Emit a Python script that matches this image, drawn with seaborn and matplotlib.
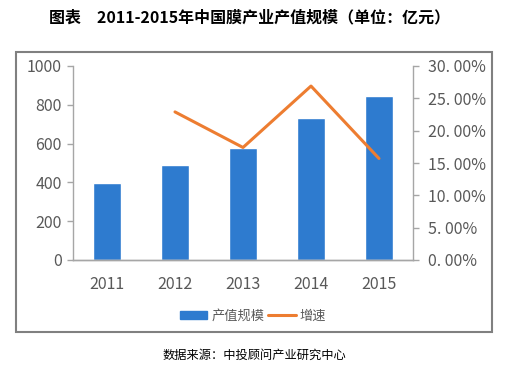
import numpy as np
import pandas as pd
import matplotlib
matplotlib.use('Agg')
import matplotlib.pyplot as plt
import matplotlib.patches as patches
from matplotlib.lines import Line2D
import seaborn as sns

# chart data
years = ['2011', '2012', '2013', '2014', '2015']
output_value = [397, 490, 577, 732, 845]           # 产值规模 (亿元)
growth_rate = [np.nan, 0.229, 0.174, 0.269, 0.157]  # 增速

left_ticks = [0, 200, 400, 600, 800, 1000]
right_ticks = [0, 0.05, 0.10, 0.15, 0.20, 0.25, 0.30]
right_labels = ['0. 00%', '5. 00%', '10. 00%', '15. 00%', '20. 00%', '25. 00%', '30. 00%']

sns.set_style('white')
plt.rcParams['font.family'] = ['Noto Sans CJK SC', 'DejaVu Sans']

bar_color = '#2E7BCF'
line_color = '#ED7D31'
axis_gray = '#A6A6A6'
text_gray = '#595959'

df = pd.DataFrame({'year': years, 'value': output_value, 'growth': growth_rate})
df['pos'] = range(len(years))

fig = plt.figure(figsize=(5.10, 3.71), dpi=100)
W, H = 510, 371
ax = fig.add_axes([73 / W, 1 - 260 / H, 340 / W, 194 / H])

sns.barplot(data=df, x='pos', y='value', color=bar_color, width=0.4,
            saturation=1, ax=ax)
ax.set_xlim(-0.5, 4.5)
ax.set_ylim(0, 1000)
ax.set_yticks(left_ticks)
ax.set_xticks(range(len(years)))
ax.set_xticklabels(years)
ax.set_xlabel('')
ax.set_ylabel('')

ax2 = ax.twinx()
sns.lineplot(data=df.dropna(), x='pos', y='growth', color=line_color,
             linewidth=2.2, ax=ax2)
ax2.set_ylim(0, 0.30)
ax2.set_yticks(right_ticks)
ax2.set_yticklabels(right_labels)
ax2.set_ylabel('')
ax2.set_xlim(-0.5, 4.5)

for a in (ax, ax2):
    a.spines['top'].set_visible(False)
    for s in ['left', 'right', 'bottom']:
        a.spines[s].set_color(axis_gray)
        a.spines[s].set_linewidth(1.0)
ax.spines['right'].set_visible(False)
ax2.spines['left'].set_visible(False)

ax.tick_params(axis='y', which='both', left=True, length=4, width=1,
               color=axis_gray, labelsize=11.5, labelcolor=text_gray, pad=4)
ax.tick_params(axis='x', bottom=False, labelsize=11.5, labelcolor=text_gray, pad=8)
ax2.tick_params(axis='y', right=True, length=4, width=1, color=axis_gray,
                labelsize=11.5, labelcolor=text_gray, pad=7)

# legend
handles = [patches.Patch(color=bar_color, label='产值规模'),
           Line2D([0], [0], color=line_color, linewidth=2.2, label='增速')]
fig.legend(handles=handles, loc='center', bbox_to_anchor=(253 / W, 1 - 316 / H),
           ncol=2, frameon=False, fontsize=9.5, handlelength=2.1, handleheight=0.6,
           columnspacing=0.3, handletextpad=0.3, labelcolor=text_gray)

# outer frame
frame = patches.Rectangle((16 / W, 1 - 332 / H), 476 / W, 280 / H,
                          transform=fig.transFigure, fill=False,
                          edgecolor='#808080', linewidth=1.5)
fig.patches.append(frame)

fig.text(250 / W, 1 - 17 / H, '图表　2011-2015年中国膜产业产值规模（单位：亿元）',
         ha='center', va='center', fontsize=11.5, fontweight='bold', color='black')
fig.text(254 / W, 1 - 355 / H, '数据来源：中投顾问产业研究中心',
         ha='center', va='center', fontsize=8.8, color='black')

fig.savefig('out.png', dpi=100)
